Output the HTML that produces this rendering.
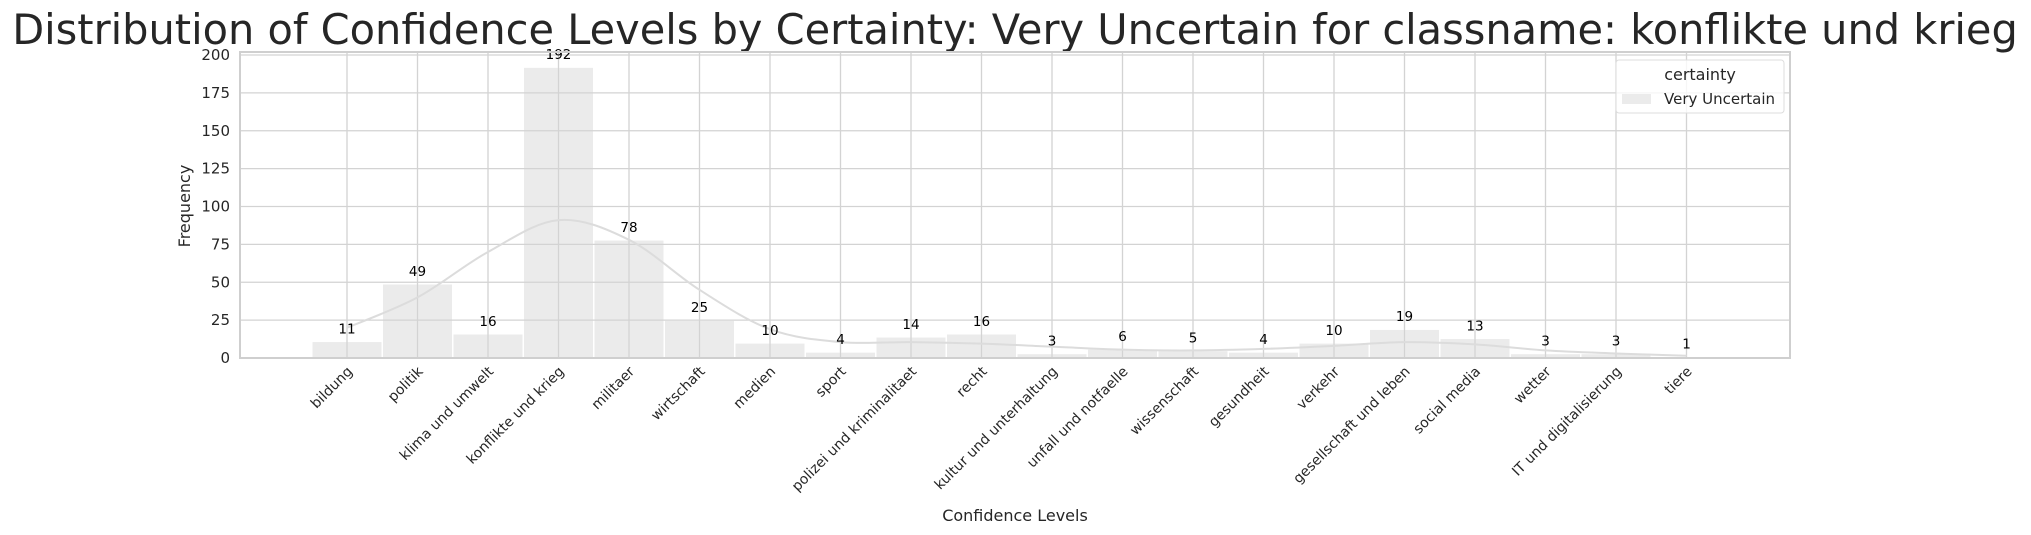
<!DOCTYPE html>
<html><head><meta charset="utf-8"><style>
html,body{margin:0;padding:0;background:#fff;}
svg{display:block;font-family:"DejaVu Sans","Liberation Sans",sans-serif;}
</style></head><body>
<svg id="chart" width="2031" height="535" viewBox="0 0 2031 535" xmlns="http://www.w3.org/2000/svg">
<text x="1015" y="44" font-size="41.5" text-anchor="middle" fill="#262626">Distribution of Confidence Levels by Certainty: Very Uncertain for classname: konflikte und krieg</text>
<g id="plot"></g>
<text x="1015" y="521" font-size="16" text-anchor="middle" fill="#262626">Confidence Levels</text>
<text transform="translate(190,206) rotate(-90)" font-size="16" text-anchor="middle" fill="#262626">Frequency</text>
<g>
<rect x="1616" y="60" width="168" height="53" rx="3" fill="#fff" fill-opacity="0.8" stroke="#ddd"/>
<text x="1700" y="80" font-size="16" text-anchor="middle" fill="#262626">certainty</text>
<rect x="1622" y="94" width="29" height="10" fill="#ebebeb"/>
<text x="1664" y="104" font-size="15" fill="#262626">Very Uncertain</text>
</g>
</svg>
<script>
const categories=["bildung","politik","klima und umwelt","konflikte und krieg","militaer","wirtschaft","medien","sport","polizei und kriminalitaet","recht","kultur und unterhaltung","unfall und notfaelle","wissenschaft","gesundheit","verkehr","gesellschaft und leben","social media","wetter","IT und digitalisierung","tiere"];
const counts=[11,49,16,192,78,25,10,4,14,16,3,6,5,4,10,19,13,3,3,1];
const kde=[20,40,70,91,78,45,19,10.5,10.5,9.5,7.5,5.5,5,6,8,10.5,9,5,3,1.5];
const yTicks=[0,25,50,75,100,125,150,175,200];

const L=240,R=1790,T=52,B=358;
const X0=347,STEP=70.5;
function xs(i){return X0+i*STEP;}
function ys(v){return B-v*(B-55)/200;}
const NS="http://www.w3.org/2000/svg";
const g=document.getElementById('plot');
function mk(tag,attrs,parent){const e=document.createElementNS(NS,tag);for(const k in attrs)e.setAttribute(k,attrs[k]);(parent||g).appendChild(e);return e;}

categories.forEach((c,i)=>{
  const r=mk('rect',{x:xs(i)-STEP/2,y:ys(counts[i]),width:STEP,height:B-ys(counts[i]),fill:'#ebebeb',stroke:'#fff','stroke-width':1.5});
  
  
});
yTicks.forEach(v=>{
  const l=mk('line',{x1:L,x2:R,y1:ys(v),y2:ys(v),stroke:'#d3d3d3','stroke-width':1.3});
  
  
  const t=mk('text',{x:L-10,y:ys(v)+5,'font-size':15,'text-anchor':'end',fill:'#262626'});
  t.textContent=v;
  
  
});
categories.forEach((c,i)=>{
  const l=mk('line',{x1:xs(i),x2:xs(i),y1:T,y2:B,stroke:'#d3d3d3','stroke-width':1.3});
  
  
  const t=mk('text',{transform:`translate(${xs(i)+2},${B+10}) rotate(-45)`,x:0,y:6,'font-size':14,'text-anchor':'end',fill:'#262626'});
  t.textContent=c;
  
  
});
const pts=kde.map((v,i)=>[xs(i),ys(v)]);
let d=`M${pts[0][0]},${pts[0][1]}`;
for(let i=0;i<pts.length-1;i++){
  const p0=pts[Math.max(0,i-1)],p1=pts[i],p2=pts[i+1],p3=pts[Math.min(pts.length-1,i+2)];
  d+=` C${p1[0]+(p2[0]-p0[0])/6},${p1[1]+(p2[1]-p0[1])/6} ${p2[0]-(p3[0]-p1[0])/6},${p2[1]-(p3[1]-p1[1])/6} ${p2[0]},${p2[1]}`;
}
const kl=mk('path',{d:d,fill:'none',stroke:'#dcdcdc','stroke-width':2});


counts.forEach((v,i)=>{
  const t=mk('text',{x:xs(i),y:ys(v)-8,'font-size':13.5,'text-anchor':'middle',fill:'#000'});
  t.textContent=v;
  
  
});
const f=mk('rect',{x:L,y:T,width:R-L,height:B-T,fill:'none',stroke:'#cfcfcf','stroke-width':2});


</script>
</body></html>
